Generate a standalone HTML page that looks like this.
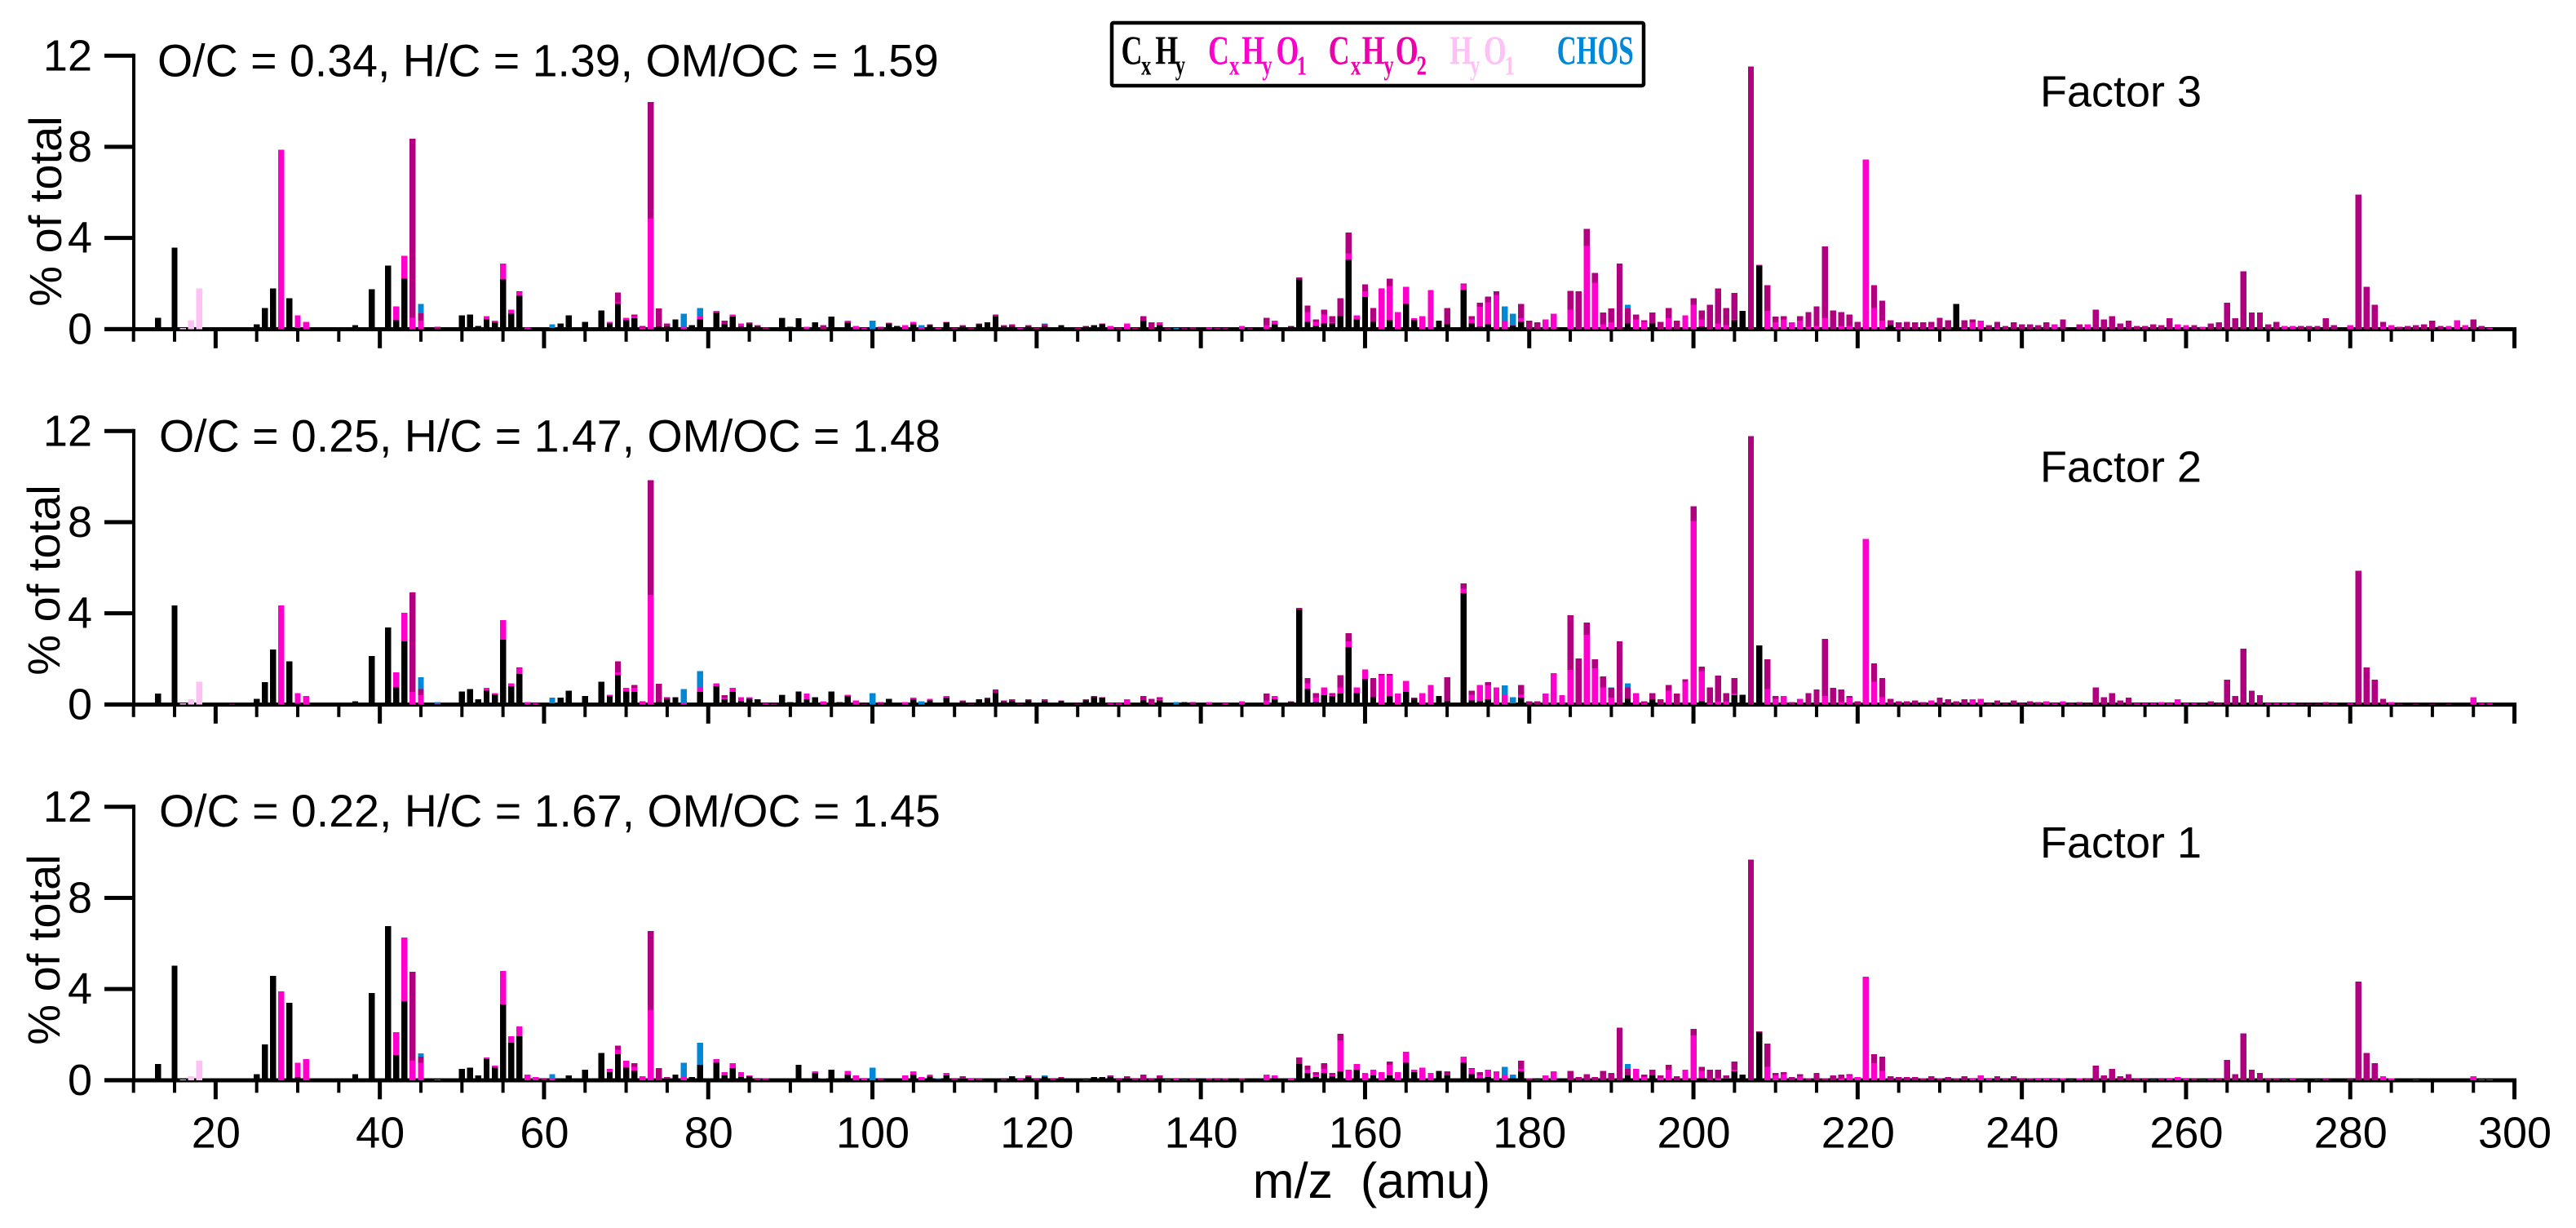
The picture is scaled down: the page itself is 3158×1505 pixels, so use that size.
<!DOCTYPE html>
<html lang="en">
<head>
<meta charset="utf-8">
<title>Factor mass spectra</title>
<style>
html,body{margin:0;padding:0;background:#fff;}
svg{display:block;}
text{font-family:"Liberation Sans",Arial,sans-serif;fill:#000;}
.legend text{font-family:"Liberation Serif","Times New Roman",serif;font-weight:bold;}
</style>
</head>
<body>
<svg id="chart" xmlns="http://www.w3.org/2000/svg" width="3158" height="1505" viewBox="0 0 3158 1505">
  <rect x="0" y="0" width="3158" height="1505" fill="#ffffff"/>
  <g id="axes"></g>
  <g id="bars" shape-rendering="crispEdges"></g>
  <g id="labels"></g>

  <text x="193" y="93.5" font-size="55.5">O/C = 0.34, H/C = 1.39, OM/OC = 1.59</text>
  <text x="195" y="553.5" font-size="55.5">O/C = 0.25, H/C = 1.47, OM/OC = 1.48</text>
  <text x="195" y="1013" font-size="55.5">O/C = 0.22, H/C = 1.67, OM/OC = 1.45</text>

  <text x="2501" y="130.5" font-size="54">Factor 3</text>
  <text x="2501" y="590.5" font-size="54">Factor 2</text>
  <text x="2501" y="1051" font-size="54">Factor 1</text>

  <text transform="translate(75,259) rotate(-90)" text-anchor="middle" font-size="56">% of total</text>
  <text transform="translate(73,711) rotate(-90)" text-anchor="middle" font-size="56">% of total</text>
  <text transform="translate(73,1164) rotate(-90)" text-anchor="middle" font-size="56">% of total</text>

  <text x="1681.5" y="1468" text-anchor="middle" font-size="61" xml:space="preserve" style="white-space:pre">m/z  (amu)</text>

  <g class="legend">
    <rect x="1363" y="28" width="652" height="77" rx="2" fill="#ffffff" stroke="#000000" stroke-width="4.5"/>
    <text transform="scale(.72,1)" y="78" font-size="50" style="fill:#000000"><tspan x="1909">C</tspan><tspan x="1943" y="91.7" font-size="34">x</tspan><tspan x="1967" y="78">H</tspan><tspan x="2001" y="91.7" font-size="34">y</tspan></text>
    <text transform="scale(.72,1)" y="78" font-size="50" style="fill:#ff00cc"><tspan x="2057">C</tspan><tspan x="2093" y="91.7" font-size="34">x</tspan><tspan x="2114" y="78">H</tspan><tspan x="2149" y="91.7" font-size="34">y</tspan><tspan x="2173" y="78">O</tspan><tspan x="2208" y="91.7" font-size="34">1</tspan></text>
    <text transform="scale(.72,1)" y="78" font-size="50" style="fill:#ec00aa"><tspan x="2262">C</tspan><tspan x="2300" y="91.7" font-size="34">x</tspan><tspan x="2319" y="78">H</tspan><tspan x="2356" y="91.7" font-size="34">y</tspan><tspan x="2376" y="78">O</tspan><tspan x="2412" y="91.7" font-size="34">2</tspan></text>
    <text transform="scale(.72,1)" y="78" font-size="50" style="fill:#ffc0f5"><tspan x="2468">H</tspan><tspan x="2503" y="91.7" font-size="34">y</tspan><tspan x="2526" y="78">O</tspan><tspan x="2562" y="91.7" font-size="34">1</tspan></text>
    <text transform="scale(.72,1)" x="2651" y="78" font-size="50" textLength="130.5" lengthAdjust="spacingAndGlyphs" style="fill:#0088d8">CHOS</text>
  </g>
</svg>

<script>
// Values are [m/z, stack level in % of total]. Each family's level is the top of its
// segment in the stacked bar; the segment starts at the previous family's level.
const factor3CxHy = [[13,.5],[15,3.57],[25,.21],[26,.93],[27,1.79],[29,1.36],[30,.05],[37,.18],[39,1.75],[41,2.79],[42,.39],[43,2.22],[50,.6],[51,.64],[52,.14],[53,.43],[54,.29],[55,2.18],[56,.68],[57,1.47],[61,.05],[62,.25],[63,.6],[65,.32],[67,.82],[68,.25],[69,1.11],[70,.39],[71,.47],[74,.1],[75,.1],[76,.43],[78,.18],[79,.43],[81,.72],[82,.21],[83,.54],[84,.1],[85,.25],[86,.1],[89,.47],[90,.1],[91,.47],[93,.29],[95,.54],[97,.29],[102,.25],[103,.14],[105,.21],[107,.18],[109,.29],[111,.1],[113,.21],[114,.29],[115,.54],[116,.1],[117,.1],[119,.1],[121,.1],[123,.18],[126,.1],[127,.18],[128,.21],[133,.36],[135,.18],[149,.21],[151,.1],[152,2.18],[153,.32],[154,.14],[155,.25],[156,.25],[157,.57],[158,3.04],[159,.43],[160,1.4],[161,.32],[163,.39],[165,1.11],[166,.39],[169,.36],[170,.21],[172,1.72],[173,.25],[174,.1],[175,.21],[178,.14],[179,.32],[192,.25],[195,.25],[201,.1],[205,.39],[206,.79],[208,2.79],[224,.18],[232,1.11]];
const factor3CxHyO1 = [[28,7.88],[30,.6],[31,.32],[42,1.0],[43,3.22],[44,.5],[45,.36],[53,.57],[54,.36],[55,2.87],[56,.86],[57,1.62],[58,.07],[68,.32],[69,1.18],[70,.5],[71,.57],[72,.07],[73,4.84],[77,.1],[79,.57],[81,.79],[83,.64],[84,.25],[85,.29],[92,.1],[97,.36],[98,.14],[99,.04],[102,.28],[104,.18],[105,.32],[106,.07],[108,.05],[109,.32],[118,.05],[129,.14],[131,.25],[135,.29],[136,.03],[141,.07],[145,.14],[146,.02],[148,.18],[149,.36],[153,.75],[154,.32],[155,.64],[156,.29],[158,3.33],[159,.61],[160,1.65],[162,1.76],[163,1.9],[164,.75],[165,1.86],[166,.47],[167,.57],[168,1.72],[172,1.97],[173,.43],[174,.97],[175,1.18],[176,1.5],[177,.36],[179,.47],[182,.43],[183,.68],[185,.86],[187,3.65],[188,2.04],[189,.21],[190,.29],[193,.43],[194,.32],[197,.47],[199,.61],[200,1.07],[201,.43],[203,.25],[204,.18],[205,.43],[208,2.83],[209,.79],[210,.29],[211,.43],[212,.29],[213,.36],[214,.1],[215,.14],[216,.47],[218,.14],[219,.14],[221,7.45],[222,.93],[223,.36],[225,.05],[229,.06],[233,.05],[234,.29],[235,.36],[237,.05],[244,.21],[248,.21],[259,.21],[260,.18],[262,.1],[272,.14],[273,.14],[280,.18],[284,.1],[285,.18],[292,.14],[293,.39],[294,.18],[297,.05]];
const factor3CxHyO2 = [[44,8.35],[45,.7],[47,.1],[57,1.65],[69,1.61],[71,.64],[72,.14],[73,9.96],[74,.9],[75,.25],[82,.36],[86,.18],[87,.07],[89,.5],[94,.18],[101,.1],[107,.21],[110,.05],[111,.18],[112,.05],[113,.25],[115,.64],[116,.18],[117,.21],[119,.18],[120,.04],[121,.21],[125,.05],[126,.14],[128,.25],[130,.05],[132,.05],[133,.57],[134,.29],[138,.05],[139,.07],[142,.05],[143,.05],[148,.5],[151,.14],[152,2.26],[153,1.04],[154,.43],[155,.86],[156,.57],[157,1.36],[158,4.23],[160,1.97],[161,.93],[162,1.79],[163,2.22],[170,.93],[172,2.0],[173,.57],[174,1.15],[175,1.43],[176,1.65],[178,.18],[179,1.11],[180,.36],[181,.29],[185,1.68],[186,1.65],[187,4.4],[188,2.47],[189,.72],[190,.9],[191,2.87],[192,.9],[193,.64],[194,.39],[195,.72],[196,.32],[197,.93],[198,.36],[200,1.36],[201,.82],[202,1.07],[203,1.79],[204,.93],[205,1.58],[207,11.53],[209,1.93],[210,.54],[211,.57],[213,.57],[214,.75],[215,1.0],[216,3.62],[217,.82],[218,.75],[219,.64],[220,.32],[222,1.93],[223,1.25],[224,.39],[225,.29],[226,.32],[227,.29],[228,.29],[229,.32],[230,.5],[231,.39],[233,.39],[234,.43],[236,.18],[237,.32],[238,.14],[239,.29],[240,.21],[241,.21],[242,.18],[243,.29],[245,.43],[247,.21],[249,.86],[250,.43],[251,.57],[252,.25],[253,.36],[254,.14],[255,.14],[256,.21],[257,.18],[258,.47],[261,.18],[263,.25],[264,.29],[265,1.15],[266,.47],[267,2.54],[268,.72],[269,.72],[270,.21],[271,.32],[274,.14],[275,.14],[276,.14],[277,.47],[278,.18],[281,5.91],[282,1.86],[283,1.07],[284,.32],[286,.1],[287,.14],[288,.18],[289,.21],[290,.36],[291,.14],[295,.43],[296,.14]];
const factor3HyO1 = [[16,.05],[17,.39],[18,1.79]];
const factor3CHOS = [[45,1.11],[61,.2],[77,.68],[79,.93],[100,.36],[106,.18],[121,.25],[137,.05],[177,1.0],[178,.68],[192,1.07]];

const factor2CxHy = [[13,.47],[15,4.35],[25,.25],[26,.97],[27,2.41],[29,1.9],[30,.02],[37,.14],[39,2.12],[41,3.38],[42,.75],[43,2.77],[50,.57],[51,.68],[52,.22],[53,.61],[54,.43],[55,2.84],[56,.79],[57,1.33],[61,.04],[62,.29],[63,.61],[65,.36],[67,1.0],[68,.36],[69,1.29],[70,.57],[71,.54],[74,.1],[75,.22],[76,.32],[79,.54],[81,.79],[82,.22],[83,.54],[84,.14],[85,.25],[86,.22],[89,.4],[90,.1],[91,.57],[92,.22],[93,.32],[95,.57],[96,.1],[97,.36],[102,.25],[105,.22],[107,.18],[109,.29],[111,.1],[113,.22],[114,.25],[115,.5],[116,.1],[117,.14],[119,.18],[121,.14],[123,.14],[126,.18],[127,.32],[128,.29],[133,.18],[135,.18],[138,.1],[149,.22],[151,.1],[152,4.17],[153,.68],[154,.1],[155,.4],[156,.36],[157,.47],[158,2.51],[159,.5],[160,1.11],[161,.32],[163,.36],[165,.54],[166,.25],[169,.36],[170,.14],[172,4.89],[173,.18],[174,.14],[175,.22],[178,.05],[179,.29],[192,.25],[195,.22],[201,.14],[205,.4],[206,.43],[208,2.59]];
const factor2CxHyO1 = [[28,4.35],[30,.5],[31,.36],[42,1.4],[43,4.02],[44,.54],[45,.4],[53,.72],[54,.5],[55,3.7],[56,.93],[57,1.58],[58,.1],[59,.04],[68,.43],[69,1.4],[70,.72],[71,.72],[72,.1],[73,4.81],[77,.05],[79,.75],[81,.93],[82,.29],[83,.72],[84,.32],[85,.32],[87,.04],[88,.03],[92,.47],[94,.14],[97,.43],[98,.18],[104,.1],[105,.29],[107,.25],[109,.36],[129,.04],[130,.05],[131,.22],[135,.25],[141,.1],[143,.04],[145,.14],[148,.18],[149,.36],[153,.93],[154,.29],[155,.75],[156,.4],[157,.75],[158,2.77],[159,.75],[160,1.51],[162,1.29],[163,1.26],[164,.47],[165,1.04],[167,.5],[168,.86],[172,5.07],[173,.43],[174,.86],[175,.83],[176,.75],[177,.43],[179,.43],[182,.47],[183,1.37],[184,.4],[185,1.51],[187,3.05],[188,1.58],[189,.75],[190,.29],[193,.5],[194,.05],[197,.61],[199,1.0],[200,8.05],[201,1.47],[202,.05],[203,.14],[204,.14],[205,.47],[209,.68],[210,.25],[211,.36],[213,.25],[216,.36],[218,.1],[219,.29],[221,7.26],[222,1.0],[223,.32],[229,.18],[234,.22],[235,.25],[243,.14],[244,.05],[245,.14],[254,.05],[255,.05],[256,.05],[257,.1],[258,.05],[259,.22],[260,.05],[261,.05],[262,.03],[270,.05],[271,.05],[272,.05],[273,.05],[280,.05],[285,.1],[295,.32],[296,.04],[297,.04]];
const factor2CxHyO2 = [[22,.03],[44,4.92],[45,.68],[47,.03],[57,1.62],[69,1.9],[71,.86],[72,.14],[73,9.84],[74,.9],[75,.32],[82,.4],[89,.43],[99,.03],[101,.1],[111,.18],[112,.03],[114,.29],[115,.65],[116,.18],[117,.22],[118,.03],[119,.22],[121,.22],[123,.18],[125,.03],[126,.22],[127,.36],[128,.32],[133,.36],[134,.25],[135,.32],[139,.1],[148,.47],[151,.14],[152,4.24],[153,1.15],[154,.5],[156,.5],[157,1.29],[158,3.13],[160,1.54],[161,1.15],[162,1.33],[163,1.33],[166,.29],[170,1.19],[172,5.32],[173,.61],[175,.97],[179,.86],[180,.14],[181,.14],[185,3.92],[186,2.01],[187,3.59],[188,1.98],[189,1.22],[190,.72],[191,2.77],[192,.75],[194,.14],[195,.5],[196,.22],[197,.86],[198,.47],[199,1.11],[200,8.69],[201,1.65],[202,.75],[203,1.26],[204,.5],[205,1.15],[207,11.78],[209,1.98],[210,.36],[212,.1],[214,.5],[215,.65],[216,2.87],[217,.72],[218,.65],[219,.36],[220,.14],[222,1.8],[223,1.15],[224,.25],[225,.14],[226,.14],[227,.18],[228,.1],[230,.29],[231,.22],[232,.14],[233,.22],[236,.05],[237,.18],[238,.04],[239,.18],[240,.05],[241,.14],[242,.1],[246,.05],[247,.1],[248,.03],[249,.75],[250,.32],[251,.5],[252,.18],[253,.29],[263,.14],[264,.05],[265,1.08],[266,.36],[267,2.44],[268,.61],[269,.4],[274,.03],[275,.03],[276,.03],[277,.1],[278,.05],[281,5.86],[282,1.62],[283,1.08],[284,.25],[286,.03],[288,.03],[290,.03],[292,.03]];
const factor2HyO1 = [[16,.04],[17,.22],[18,1.0]];
const factor2CHOS = [[45,1.19],[47,.1],[61,.29],[77,.68],[79,1.47],[100,.5],[106,.14],[137,.1],[177,.83],[178,.32],[190,.75],[192,.93]];

const factor1CxHy = [[13,.71],[15,5.03],[20,.06],[25,.27],[26,1.56],[27,4.57],[29,3.39],[30,.12],[35,.06],[37,.27],[39,3.82],[40,.06],[41,6.76],[42,1.1],[43,3.47],[50,.49],[51,.55],[52,.2],[53,.92],[54,.55],[55,3.32],[56,1.64],[57,1.92],[62,.06],[63,.2],[65,.45],[67,1.2],[68,.35],[69,1.14],[70,.55],[71,.41],[75,.06],[76,.25],[78,.13],[79,.67],[80,.06],[81,.77],[82,.2],[83,.53],[84,.13],[85,.17],[89,.09],[90,.06],[91,.67],[92,.09],[93,.31],[94,.06],[95,.45],[96,.06],[97,.25],[102,.06],[103,.08],[105,.25],[107,.17],[108,.05],[109,.2],[111,.06],[115,.05],[117,.17],[119,.13],[121,.13],[123,.08],[125,.06],[127,.13],[128,.13],[129,.13],[131,.08],[135,.08],[140,.05],[149,.08],[150,.06],[152,.71],[153,.31],[154,.13],[155,.31],[156,.17],[157,.39],[159,.45],[161,.2],[163,.2],[165,.77],[166,.35],[169,.41],[170,.2],[172,.77],[173,.27],[174,.09],[175,.13],[178,.09],[179,.39],[192,.2],[195,.2],[201,.09],[204,.06],[205,.39],[206,.25],[208,2.1],[275,.05],[290,.05]];
const factor1CxHyO1 = [[28,3.9],[30,.77],[31,.92],[42,2.1],[43,6.26],[44,.85],[45,.77],[53,.99],[54,.63],[55,4.79],[56,1.92],[57,2.35],[58,.25],[59,.13],[61,.06],[68,.49],[69,1.34],[70,.85],[71,.59],[72,.17],[73,3.07],[77,.13],[81,.92],[82,.35],[83,.74],[84,.35],[85,.2],[93,.39],[94,.09],[97,.41],[98,.2],[99,.06],[104,.2],[105,.39],[106,.13],[107,.25],[109,.31],[112,.06],[118,.06],[136,.03],[137,.06],[148,.25],[149,.2],[151,.06],[153,.45],[154,.25],[155,.49],[156,.2],[157,1.75],[158,.45],[159,.71],[160,.31],[161,.45],[162,.35],[163,.67],[164,.35],[165,1.24],[166,.45],[167,.55],[168,.31],[172,1.03],[173,.49],[174,.2],[175,.45],[176,.39],[177,.2],[179,.49],[182,.2],[183,.39],[193,.49],[194,.13],[196,.1],[197,.45],[199,.45],[200,1.97],[201,.41],[203,.09],[205,.45],[209,.59],[210,.2],[211,.27],[213,.17],[218,.06],[219,.2],[220,.13],[221,4.54],[222,.74],[223,.41],[234,.06],[235,.2],[236,.06],[242,.06],[243,.06],[244,.06],[245,.09],[247,.09],[258,.06],[259,.13],[260,.06],[273,.06],[284,.17],[285,.09],[295,.17],[296,.03],[297,.03]];
const factor1CxHyO2 = [[44,4.75],[45,1.03],[60,.06],[69,1.52],[71,.74],[73,6.54],[74,.53],[75,.13],[86,.06],[87,.09],[101,.06],[110,.06],[111,.17],[113,.06],[116,.05],[119,.2],[120,.06],[121,.17],[122,.06],[123,.13],[126,.03],[129,.2],[130,.06],[131,.17],[132,.06],[133,.25],[134,.06],[135,.2],[138,.03],[139,.06],[141,.08],[142,.06],[143,.08],[145,.08],[152,.99],[153,.63],[154,.35],[155,.74],[156,.31],[157,2.03],[163,.81],[170,.39],[173,.53],[174,.35],[179,.85],[180,.09],[181,.03],[185,.41],[186,.13],[187,.27],[188,.13],[189,.41],[190,.31],[191,2.31],[192,.49],[194,.25],[195,.45],[196,.2],[197,.67],[198,.17],[200,2.25],[201,.59],[202,.45],[203,.45],[204,.2],[205,.81],[207,9.69],[208,2.14],[209,1.6],[210,.31],[211,.35],[212,.13],[213,.27],[214,.09],[215,.31],[216,.09],[217,.2],[218,.25],[219,.27],[222,1.14],[223,1.03],[224,.17],[225,.13],[226,.13],[227,.13],[228,.09],[229,.17],[230,.09],[231,.13],[232,.09],[233,.17],[237,.17],[238,.06],[239,.17],[240,.06],[241,.09],[246,.03],[248,.06],[249,.63],[250,.2],[251,.49],[252,.17],[253,.27],[254,.06],[255,.06],[256,.03],[257,.06],[261,.06],[262,.03],[263,.06],[264,.06],[265,.88],[266,.27],[267,2.06],[268,.45],[269,.31],[270,.06],[271,.06],[272,.03],[274,.03],[276,.03],[277,.06],[280,.05],[281,4.32],[282,1.2],[283,.74],[288,.02]];
const factor1HyO1 = [[16,.03],[17,.17],[18,.85]];
const factor1CHOS = [[45,1.17],[47,.02],[61,.27],[77,.77],[79,1.64],[100,.55],[108,.09],[121,.2],[177,.59],[178,.25],[192,.71]];

const yTickValues = [0, 4, 8, 12];
const xTickLabels = [20, 40, 60, 80, 100, 120, 140, 160, 180, 200, 220, 240, 260, 280, 300];
const familyNames = ['cxhy', 'cxhyo1', 'cxhyo2', 'hyo1', 'chos'];

const NS = 'http://www.w3.org/2000/svg';
const FAMILY_COLORS = ['#000000', '#ff00cc', '#b00080', '#ffc0f5', '#0088d8'];
const xScale = function (mz) { return 163.7 + 10.065 * (mz - 10); };
const yScale = function (value, zero) { return zero - value * 27.92; };

const panels = [
  { name: 'factor-3', zero: 403.3, series: [factor3CxHy, factor3CxHyO1, factor3CxHyO2, factor3HyO1, factor3CHOS], labels: false },
  { name: 'factor-2', zero: 863.3, series: [factor2CxHy, factor2CxHyO1, factor2CxHyO2, factor2HyO1, factor2CHOS], labels: false },
  { name: 'factor-1', zero: 1323.8, series: [factor1CxHy, factor1CxHyO1, factor1CxHyO2, factor1HyO1, factor1CHOS], labels: true }
];

const axesLayer = document.getElementById('axes');
const barsLayer = document.getElementById('bars');
const labelsLayer = document.getElementById('labels');

function axisRect(x, y, w, h, role) {
  const el = document.createElementNS(NS, 'rect');
  el.setAttribute('x', x);
  el.setAttribute('y', y);
  el.setAttribute('width', w);
  el.setAttribute('height', h);
  el.setAttribute('fill', '#000');
  
  
  axesLayer.appendChild(el);
}

function tickText(x, y, anchor, str, role) {
  const el = document.createElementNS(NS, 'text');
  el.setAttribute('x', x);
  el.setAttribute('y', y);
  el.setAttribute('text-anchor', anchor);
  el.setAttribute('font-size', '54');
  el.textContent = str;
  
  
  labelsLayer.appendChild(el);
}

panels.forEach(function (panel) {
  const zero = panel.zero;
  const top = yScale(12, zero);

  axisRect(162, top - 2.5, 4, zero - top + 5, panel.name + '-y-axis-line');
  axisRect(128, zero - 2.3, xScale(300) + 2.5 - 128, 5, panel.name + '-x-axis-line');

  yTickValues.forEach(function (v) {
    const y = yScale(v, zero);
    axisRect(128, y - 2.5, 36, 5, panel.name + '-y-tick');
    tickText(113, y + 18, 'end', String(v), panel.name + '-y-tick-label');
  });

  for (let m = 10; m <= 300; m += 5) {
    const major = m % 20 === 0;
    const w = major ? 5 : 4;
    const len = major ? 22.5 : 14.5;
    axisRect(xScale(m) - w / 2, zero + 1, w, len, panel.name + '-x-tick');
  }

  // stacked bars: each segment runs from the previous family's level up to its own
  const reached = {};
  panel.series.forEach(function (points, familyIndex) {
    points.forEach(function (point) {
      const mz = point[0];
      const level = point[1];
      const base = reached[mz] || 0;
      if (level <= base) return;
      const y1 = yScale(level, zero);
      const y0 = yScale(base, zero);
      const rect = document.createElementNS(NS, 'rect');
      rect.setAttribute('x', xScale(mz) - 3.7);
      rect.setAttribute('y', y1);
      rect.setAttribute('width', 7.4);
      rect.setAttribute('height', y0 - y1);
      rect.setAttribute('fill', FAMILY_COLORS[familyIndex]);
      
      
      barsLayer.appendChild(rect);
      reached[mz] = level;
    });
  });

  if (panel.labels) {
    xTickLabels.forEach(function (m) {
      tickText(xScale(m) + 0.5, 1406.5, 'middle', String(m), 'x-tick-label');
    });
  }
});
</script>
</body>
</html>
